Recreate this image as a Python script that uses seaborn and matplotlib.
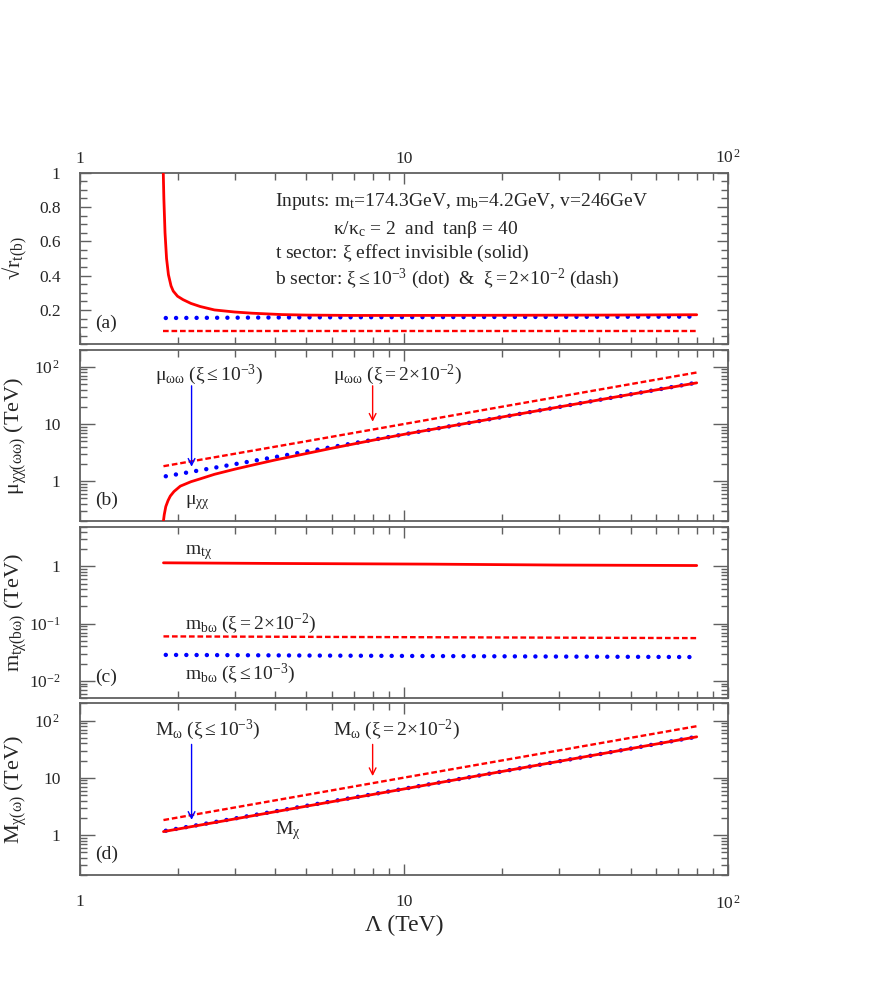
import numpy as np
import pandas as pd
import seaborn as sns
import matplotlib
matplotlib.use("Agg")
import matplotlib.pyplot as plt
from matplotlib.ticker import LogLocator, FixedLocator, FuncFormatter, NullFormatter, MultipleLocator

# %% dados

# (a) sqrt(r_t) e sqrt(r_b)
lam_rt = [1.805, 1.815, 1.83, 1.85, 1.875, 1.91, 1.94, 2.0, 2.08, 2.2, 2.35, 2.6,
          3.0, 3.4, 4.2, 5.0, 7.0, 10, 20, 40, 80]
sqrt_rt = [1.05, 0.85, 0.65, 0.50, 0.405, 0.34, 0.31, 0.28, 0.26, 0.238, 0.22, 0.20,
           0.188, 0.181, 0.173, 0.170, 0.168, 0.168, 0.169, 0.170, 0.172]
lam_rb_dot = [1.84, 5, 20, 77]
sqrt_rb_dot = [0.153, 0.157, 0.159, 0.161]
lam_rb_dash = [1.81, 10, 80]
sqrt_rb_dash = [0.075, 0.075, 0.075]

# (b) mu_chichi e mu_omegaomega
lam_muxx = [1.807, 1.82, 1.84, 1.87, 1.90, 1.95, 2.04, 2.2, 2.35, 2.6, 3.0, 3.5,
            4.0, 5.0, 6.0, 8.0, 10, 15, 20, 30, 50, 80]
mu_xx = [0.19, 0.26, 0.36, 0.46, 0.55, 0.66, 0.82, 0.98, 1.10, 1.32, 1.62, 1.98,
         2.35, 3.05, 3.78, 5.2, 6.6, 9.9, 13.2, 19.8, 33.0, 52.4]
lam_muww_dot = [1.84, 5, 20, 78]
mu_ww_dot = [1.22, 3.3, 13.2, 51.5]
lam_muww_dash = [1.81, 5, 20, 80]
mu_ww_dash = [1.83, 5.0, 20.0, 79.5]

# (c) m_tchi e m_bomega
lam_mtx = [1.81, 4, 12, 30, 80]
m_tx = [1.16, 1.13, 1.10, 1.06, 1.04]
lam_mbw_dash = [1.81, 12, 80]
m_bw_dash = [0.060, 0.058, 0.056]
lam_mbw_dot = [1.84, 12, 78]
m_bw_dot = [0.0285, 0.0272, 0.0261]

# (d) M_chi e M_omega
lam_Mx = [1.81, 5, 10, 20, 40, 80]
M_x = [1.15, 3.2, 6.4, 12.9, 25.9, 52.2]
lam_Mw_dot = [1.84, 5, 10, 20, 40, 78]
M_w_dot = [1.19, 3.25, 6.45, 12.9, 25.9, 51.0]
lam_Mw_dash = [1.81, 5, 10, 20, 40, 80]
M_w_dash = [1.83, 5.05, 10.1, 20.1, 40.1, 80.0]

# %% estilo

sns.set_theme(style="ticks")
plt.rcParams["font.family"] = ["Liberation Serif", "DejaVu Serif"]
plt.rcParams["mathtext.fontset"] = "custom"
plt.rcParams["mathtext.rm"] = "Liberation Serif"
plt.rcParams["mathtext.it"] = "Liberation Serif:italic"
plt.rcParams["mathtext.bf"] = "Liberation Serif:bold"
plt.rcParams["mathtext.default"] = "regular"

VERMELHO = "#ff0000"
AZUL = "#0000ff"
CINZA = "#606060"

ESTILO_PONTO = dict(color=AZUL, lw=3.2, linestyle=(0, (0.01, 2.3)), dash_capstyle="round")
ESTILO_TRACO = dict(color=VERMELHO, lw=1.7, linestyle=(0, (2.4, 1.2)))
ESTILO_SOLIDO = dict(color=VERMELHO, lw=2.0, linestyle="-")

fig, eixos = plt.subplots(4, 1, figsize=(8.72, 9.81), dpi=100, sharex=True)
fig.subplots_adjust(left=0.0917, right=0.835, top=0.824, bottom=0.108, hspace=0.031)


def linha(ax, x, y, estilo, z):
    sns.lineplot(x=x, y=y, ax=ax, zorder=z, **estilo)


def formato_log(v, pos):
    rotulos = {1: "1", 10: "10", 100: r"$10^{\,2}$", 0.1: r"$10^{-1}$", 0.01: r"$10^{-2}$"}
    for k, s in rotulos.items():
        if np.isclose(v, k):
            return s
    return ""


def estilo_eixo(ax):
    ax.set_xscale("log")
    ax.set_xlim(1, 100)
    for s in ax.spines.values():
        s.set_color(CINZA)
        s.set_linewidth(1.3)
    ax.tick_params(which="both", direction="in", top=True, right=True,
                   color=CINZA, width=1.0, labelsize=12.5)
    ax.tick_params(which="major", length=8)
    ax.tick_params(which="minor", length=5)
    ax.tick_params(axis="y", pad=14)
    ax.xaxis.set_major_locator(FixedLocator([1, 10, 100]))
    ax.xaxis.set_minor_locator(LogLocator(base=10, subs=np.arange(2, 10)))
    ax.xaxis.set_major_formatter(FuncFormatter(formato_log))
    ax.xaxis.set_minor_formatter(NullFormatter())
    ax.tick_params(axis="x", labelbottom=False, labeltop=False)
    ax.set_xlabel("")


def estilo_log_y(ax, lim):
    ax.set_yscale("log")
    ax.set_ylim(*lim)
    ax.yaxis.set_major_locator(LogLocator(base=10, numticks=10))
    ax.yaxis.set_minor_locator(LogLocator(base=10, subs=np.arange(2, 10), numticks=20))
    ax.yaxis.set_major_formatter(FuncFormatter(formato_log))
    ax.yaxis.set_minor_formatter(NullFormatter())
    ax.tick_params(axis="y", which="major", length=11)


def rotulo_y(ax, texto):
    ax.set_ylabel(texto, fontsize=16)
    ax.yaxis.set_label_coords(-0.078, 0.5)


# %% painel (a)
ax = eixos[0]
linha(ax, lam_rb_dot, sqrt_rb_dot, ESTILO_PONTO, 2)
linha(ax, lam_rb_dash, sqrt_rb_dash, ESTILO_TRACO, 3)
linha(ax, lam_rt, sqrt_rt, ESTILO_SOLIDO, 4)
estilo_eixo(ax)
ax.set_ylim(0, 1)
ax.yaxis.set_major_locator(FixedLocator([0.2, 0.4, 0.6, 0.8, 1.0]))
ax.yaxis.set_major_formatter(FuncFormatter(lambda v, p: "1" if np.isclose(v, 1) else f"{v:.1f}"))
ax.yaxis.set_minor_locator(MultipleLocator(0.05))
ax.tick_params(axis="x", labeltop=True, pad=4)
rotulo_y(ax, r"√$r_{t(b)}$")
txt = dict(transform=ax.transAxes, fontsize=14, va="center", ha="left")
ax.text(0.301, 0.831, r"Inputs: $m_t$=174.3GeV, $m_b$=4.2GeV, v=246GeV", **txt)
ax.text(0.390, 0.670, r"$\kappa/\kappa_c$ = 2  and  tan$\beta$ = 40", **txt)
ax.text(0.301, 0.530, r"t sector: $\xi$ effect invisible (solid)", **txt)
ax.text(0.301, 0.384, r"b sector: $\xi \leq 10^{-3}$ (dot)  &  $\xi = 2{\times}10^{-2}$ (dash)", **txt)
ax.text(0.023, 0.12, "(a)", transform=ax.transAxes, fontsize=14, va="center")

# %% painel (b)
ax = eixos[1]
linha(ax, lam_muww_dot, mu_ww_dot, ESTILO_PONTO, 2)
linha(ax, lam_muww_dash, mu_ww_dash, ESTILO_TRACO, 3)
linha(ax, lam_muxx, mu_xx, ESTILO_SOLIDO, 4)
estilo_eixo(ax)
estilo_log_y(ax, (0.2, 200))
rotulo_y(ax, r"$\mu_{\chi\chi(\omega\omega)}$ (TeV)")
txt = dict(transform=ax.transAxes, fontsize=14, va="center", ha="left")
ax.text(0.116, 0.851, r"$\mu_{\omega\omega}$ ($\xi \leq 10^{-3}$)", **txt)
ax.text(0.390, 0.851, r"$\mu_{\omega\omega}$ ($\xi = 2{\times}10^{-2}$)", **txt)
ax.text(0.162, 0.108, r"$\mu_{\chi\chi}$", **txt)
ax.text(0.023, 0.12, "(b)", transform=ax.transAxes, fontsize=14, va="center")
ax.annotate("", xy=(2.21, 1.6), xytext=(2.21, 52),
            arrowprops=dict(arrowstyle="->", color=AZUL, lw=1.0))
ax.annotate("", xy=(8.0, 9.8), xytext=(8.0, 52),
            arrowprops=dict(arrowstyle="->", color=VERMELHO, lw=1.0))

# %% painel (c)
ax = eixos[2]
linha(ax, lam_mbw_dot, m_bw_dot, ESTILO_PONTO, 2)
linha(ax, lam_mbw_dash, m_bw_dash, ESTILO_TRACO, 3)
linha(ax, lam_mtx, m_tx, ESTILO_SOLIDO, 4)
estilo_eixo(ax)
estilo_log_y(ax, (0.005, 5))
rotulo_y(ax, r"$m_{t\chi(b\omega)}$ (TeV)")
txt = dict(transform=ax.transAxes, fontsize=14, va="center", ha="left")
ax.text(0.162, 0.847, r"$m_{t\chi}$", **txt)
ax.text(0.162, 0.435, r"$m_{b\omega}$ ($\xi = 2{\times}10^{-2}$)", **txt)
ax.text(0.162, 0.141, r"$m_{b\omega}$ ($\xi \leq 10^{-3}$)", **txt)
ax.text(0.023, 0.12, "(c)", transform=ax.transAxes, fontsize=14, va="center")

# %% painel (d)
ax = eixos[3]
linha(ax, lam_Mw_dot, M_w_dot, ESTILO_PONTO, 2)
linha(ax, lam_Mw_dash, M_w_dash, ESTILO_TRACO, 3)
linha(ax, lam_Mx, M_x, ESTILO_SOLIDO, 4)
estilo_eixo(ax)
estilo_log_y(ax, (0.2, 200))
rotulo_y(ax, r"$M_{\chi(\omega)}$ (TeV)")
txt = dict(transform=ax.transAxes, fontsize=14, va="center", ha="left")
ax.text(0.116, 0.845, r"$M_{\omega}$ ($\xi \leq 10^{-3}$)", **txt)
ax.text(0.390, 0.845, r"$M_{\omega}$ ($\xi = 2{\times}10^{-2}$)", **txt)
ax.text(0.301, 0.262, r"$M_{\chi}$", **txt)
ax.text(0.023, 0.12, "(d)", transform=ax.transAxes, fontsize=14, va="center")
ax.annotate("", xy=(2.21, 1.65), xytext=(2.21, 43),
            arrowprops=dict(arrowstyle="->", color=AZUL, lw=1.0))
ax.annotate("", xy=(8.0, 9.6), xytext=(8.0, 43),
            arrowprops=dict(arrowstyle="->", color=VERMELHO, lw=1.0))
ax.tick_params(axis="x", labelbottom=True, pad=14)
ax.set_xlabel("Λ (TeV)", fontsize=17, labelpad=2)

fig.savefig("out.png", dpi=100)
